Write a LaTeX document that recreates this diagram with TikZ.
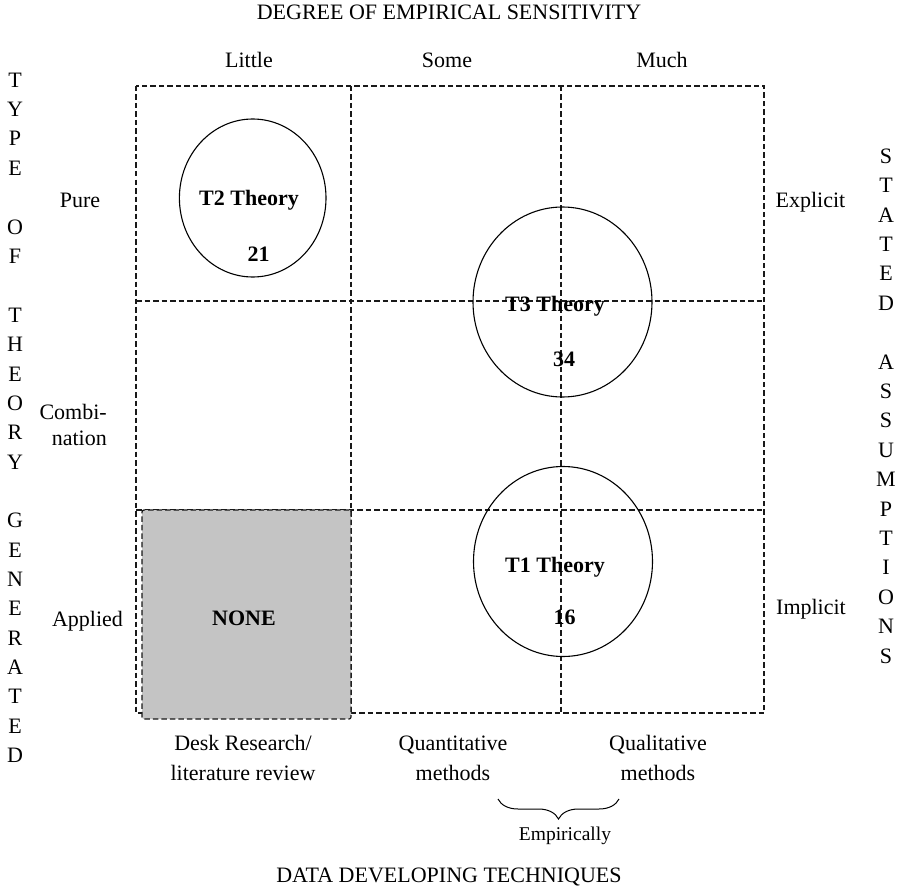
\documentclass[tikz,border=0pt]{standalone}
\usepackage{fontspec}
\setmainfont{Liberation Serif}
\usetikzlibrary{shapes.geometric,decorations.pathreplacing}
\begin{document}
\begin{tikzpicture}[x=1pt,y=-1pt,
  lbl/.style={font=\fontsize{22}{26}\selectfont, anchor=base, inner sep=0pt},
  blbl/.style={font=\fontsize{22}{26}\selectfont\bfseries, anchor=base, inner sep=0pt},
  grid/.style={dash pattern=on 5.5pt off 3pt, line width=1.2pt, color=black!90},
  oval/.style={draw, ellipse, line width=1.1pt, inner sep=0pt}]
\useasboundingbox (0,0) rectangle (897,888);
% grid corners
\coordinate (tl) at (136,86);
\coordinate (br) at (764,713);
\coordinate (v1t) at (351,86);  \coordinate (v1b) at (351,713);
\coordinate (v2t) at (561,86);  \coordinate (v2b) at (561,713);
\coordinate (h1l) at (136,301); \coordinate (h1r) at (764,301);
\coordinate (h2l) at (136,510); \coordinate (h2r) at (764,510);
\draw[grid] (tl) rectangle (br);
\draw[grid] (v1t) -- (v1b);
\draw[grid] (v2t) -- (v2b);
\draw[grid] (h1l) -- (h1r);
\draw[grid] (h2l) -- (h2r);
% grey cell
\node[draw, grid, fill={rgb,255:red,196;green,196;blue,196}, rounded corners=2pt,
  minimum width=209pt, minimum height=209pt, inner sep=0pt] (none) at (246.5,614.5) {};
\node[blbl] (nonet) at (244,625) {NONE};
% circles
\node[oval, minimum width=146.6pt, minimum height=158pt] (c2) at (252.7,198) {};
\node[oval, minimum width=179pt, minimum height=190pt] (c3) at (562.5,302) {};
\node[oval, minimum width=179pt, minimum height=190pt] (c1) at (563,561.5) {};
\node[blbl] (t2) at (249,205.5) {T2 Theory};
\node[blbl] (n2) at (258.5,261) {21};
\node[blbl] (t3) at (555,311) {T3 Theory};
\node[blbl] (n3) at (564,366) {34};
\node[blbl] (t1) at (555,572) {T1 Theory};
\node[blbl] (n1) at (564.5,624) {16};
% titles
\node[lbl] (toptitle) at (449,20) {DEGREE OF EMPIRICAL SENSITIVITY};
\node[lbl] (bottitle) at (449,882) {DATA DEVELOPING TECHNIQUES};
% column heads
\node[lbl] (little) at (249,68) {Little};
\node[lbl] (some) at (447,68) {Some};
\node[lbl] (much) at (662,68) {Much};
% row labels
\node[lbl] (pure) at (80,207) {Pure};
\node[lbl, anchor=base east] (combi) at (107,419) {Combi-};
\node[lbl, anchor=base east] (nation) at (107,445) {nation};
\node[lbl] (applied) at (87.5,626) {Applied};
\node[lbl] (explicit) at (810.5,207) {Explicit};
\node[lbl] (implicit) at (811,614) {Implicit};
% bottom labels
\node[lbl] (desk1) at (243,750) {Desk Research/};
\node[lbl] (desk2) at (243,780) {literature review};
\node[lbl] (quan1) at (453,750) {Quantitative};
\node[lbl] (quan2) at (453,780) {methods};
\node[lbl] (qual1) at (658,750) {Qualitative};
\node[lbl] (qual2) at (658,780) {methods};
% brace
\coordinate (b1) at (498,799);
\coordinate (b2) at (619,799);
\draw[line width=1pt, decorate, decoration={brace, amplitude=20pt, mirror}] (b1) -- (b2);
\node[lbl, font=\fontsize{19.5}{22}\selectfont] (emp) at (565,840) {Empirically};
% vertical letters, left
\foreach \ch/\yy [count=\i] in {T/80,Y/109.4,P/138.7,E/168,O/227,F/256,T/315,H/344,E/374,O/403,R/432,Y/462,G/520,E/550,N/579,E/608,R/638,A/667,T/696,E/726,D/755}
  \node[lbl] (L\i) at (15,\yy+7.3) {\ch};
% vertical letters, right
\foreach \ch/\yy [count=\i] in {S/156,T/185.4,A/214.8,T/244.2,E/273.6,D/303,A/361.8,S/391.2,S/420.6,U/450,M/479.4,P/508.8,T/538.2,I/567.6,O/597,N/626.4,S/655.8}
  \node[lbl] (R\i) at (886,\yy+7.3) {\ch};
\end{tikzpicture}
\end{document}
